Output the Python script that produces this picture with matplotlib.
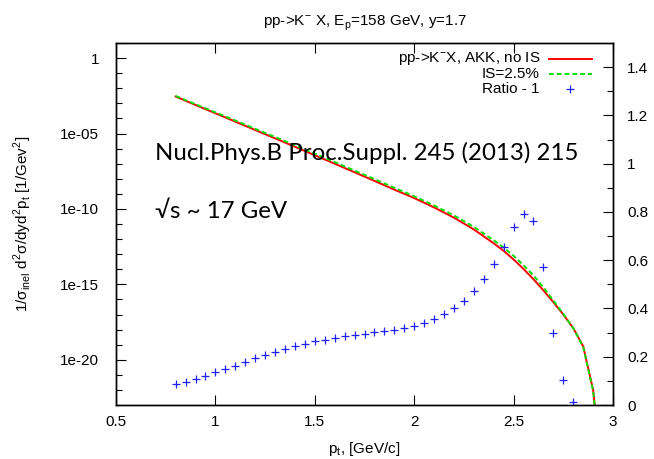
import numpy as np
import matplotlib
matplotlib.use("Agg")
import matplotlib.pyplot as plt
from matplotlib.ticker import FixedLocator, NullFormatter

plt.rcParams['font.family'] = ['Liberation Sans', 'DejaVu Sans']

# spectra, log10 of 1/sigma d2sigma/dyd2pt
pt = [0.8, 0.9, 1.0, 1.1, 1.2, 1.3, 1.4, 1.5, 1.6, 1.7, 1.8, 1.9, 2.0, 2.1,
      2.2, 2.3, 2.4, 2.45, 2.5, 2.55, 2.6, 2.65, 2.7, 2.75, 2.8, 2.85, 2.9, 2.92]
log_noIS = [-2.55, -3.11, -3.66, -4.21, -4.77, -5.32, -5.88, -6.44, -7.00,
            -7.57, -8.14, -8.72, -9.28, -9.90, -10.58, -11.36, -12.28, -12.78,
            -13.35, -13.98, -14.66, -15.40, -16.18, -17.00, -17.90, -19.10,
            -22.00, -24.50]
log_IS = [-2.51, -3.06, -3.60, -4.14, -4.69, -5.23, -5.78, -6.34, -6.89,
          -7.46, -8.02, -8.60, -9.16, -9.77, -10.43, -11.19, -12.08, -12.56,
          -13.11, -13.73, -14.41, -15.20, -16.07, -16.96, -17.90, -19.15,
          -22.05, -24.50]

# ratio - 1 (right axis)
pt_ratio = [0.80, 0.85, 0.90, 0.95, 1.00, 1.05, 1.10, 1.15, 1.20, 1.25, 1.30,
            1.35, 1.40, 1.45, 1.50, 1.55, 1.60, 1.65, 1.70, 1.75, 1.80, 1.85,
            1.90, 1.95, 2.00, 2.05, 2.10, 2.15, 2.20, 2.25, 2.30, 2.35, 2.40,
            2.45, 2.50, 2.55, 2.60, 2.65, 2.70, 2.75, 2.80]
ratio = [0.086, 0.095, 0.109, 0.121, 0.135, 0.149, 0.163, 0.179, 0.193, 0.206,
         0.220, 0.231, 0.243, 0.253, 0.264, 0.271, 0.278, 0.285, 0.290, 0.294,
         0.301, 0.307, 0.311, 0.320, 0.328, 0.341, 0.358, 0.377, 0.400, 0.432,
         0.472, 0.521, 0.583, 0.656, 0.736, 0.793, 0.762, 0.570, 0.297, 0.104,
         0.012]

fig = plt.figure(figsize=(6.54, 4.59), dpi=100)
ax = fig.add_axes([0.1774, 0.1176, 0.7599, 0.7887])
ax.set_yscale('log')
ax.set_xlim(0.5, 3)
ax.set_ylim(1e-23, 1e1)

ax.plot(pt, 10.0 ** np.array(log_noIS), color='#ff0000', lw=1.4)
ax.plot(pt, 10.0 ** np.array(log_IS), color='#00e000', lw=1.4, ls=(0, (2.5, 1.5)))

ax.yaxis.set_major_locator(FixedLocator([1e0, 1e-5, 1e-10, 1e-15, 1e-20]))
ax.set_yticklabels(['1', '1e-05', '1e-10', '1e-15', '1e-20'])
ax.yaxis.set_minor_locator(FixedLocator([10.0 ** k for k in range(-23, 2)]))
ax.yaxis.set_minor_formatter(NullFormatter())
ax.set_xticks([0.5, 1, 1.5, 2, 2.5, 3])
ax.set_xticklabels(['0.5', '1', '1.5', '2', '2.5', '3'])
ax.tick_params(which='both', direction='in', top=True, right=True, labelsize=11,
               width=0.8, color='black')
ax.tick_params(which='major', length=7)
ax.tick_params(axis='y', which='major', pad=12)
ax.tick_params(axis='x', which='major', pad=7)
ax.tick_params(which='minor', length=4)

ax2 = ax.twinx()
ax2.set_ylim(0, 1.5)
ax2.set_yticks([0, 0.2, 0.4, 0.6, 0.8, 1.0, 1.2, 1.4])
ax2.set_yticklabels(['0', '0.2', '0.4', '0.6', '0.8', '1', '1.2', '1.4'])
ax2.set_yticks(np.arange(0.1, 1.5, 0.2), minor=True)
ax2.tick_params(which='both', direction='in', labelsize=11, width=0.8)
ax2.tick_params(which='major', length=7, pad=10)
ax2.tick_params(which='minor', length=4)
ax2.plot(pt_ratio, ratio, ls='none', marker='+', ms=6, mew=0.9, color='#2020ff')

for a in (ax, ax2):
    for s in a.spines.values():
        s.set_linewidth(1.0)

# legend, gnuplot style (text right aligned, sample on the right)
ty = [0.956, 0.914, 0.873]
labels = ['pp->K$^{\\mathregular{-}}$X, AKK, no IS', 'IS=2.5%', 'Ratio - 1']
for y, lab in zip(ty, labels):
    ax2.text(0.853, y, lab, transform=ax2.transAxes, ha='right', va='center',
             fontsize=11)
ax2.plot([0.871, 0.958], [ty[0]] * 2, transform=ax2.transAxes, color='#ff0000', lw=1.4)
ax2.plot([0.871, 0.958], [ty[1]] * 2, transform=ax2.transAxes, color='#00e000', lw=1.4,
         ls=(0, (2.5, 1.5)))
ax2.plot([0.913], [ty[2]], transform=ax2.transAxes, ls='none', marker='+', ms=6,
         mew=0.9, color='#2020ff')

ax2.text(0.078, 0.677, 'Nucl.Phys.B Proc.Suppl. 245 (2013) 215', transform=ax2.transAxes,
         family='Lato', fontsize=17.3, va='baseline', ha='left')
ax2.text(0.078, 0.517, '√s ~ 17 GeV', transform=ax2.transAxes,
         family=['Lato', 'DejaVu Sans'], fontsize=17.3, va='baseline', ha='left')

ax.set_title('pp->K$^{\\mathregular{-}}$ X, E$_\\mathregular{p}$=158 GeV, y=1.7',
             fontsize=11, pad=12)
ax.set_xlabel('p$_\\mathregular{t}$, [GeV/c]', fontsize=11, labelpad=8)
ax.set_ylabel('1/σ$_\\mathregular{inel}$ d$^\\mathregular{2}$σ/dyd$^\\mathregular{2}$p$_\\mathregular{t}$ [1/Gev$^\\mathregular{2}$]',
              fontsize=11, labelpad=19)

fig.savefig('out.png', dpi=100)
